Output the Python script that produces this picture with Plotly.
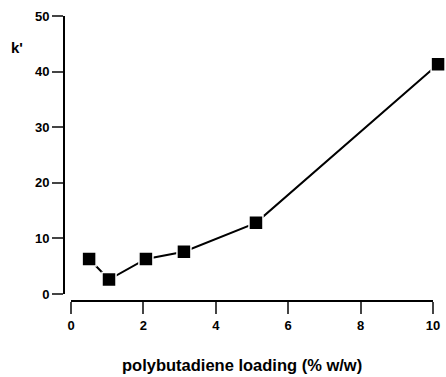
import plotly.graph_objects as go

loading = [0.5, 1.05, 2.07, 3.12, 5.11, 10.14]
k_prime = [6.3, 2.6, 6.3, 7.6, 12.8, 41.3]
x_ticks = [0, 2, 4, 6, 8, 10]
y_ticks = [0, 10, 20, 30, 40, 50]

W, H = 446, 377
ml, mr, mt, mb = 64, 4, 16, 76
pw, ph = W - ml - mr, H - mt - mb
x0px, upx = 71, 36.2  # pixel of x=0, pixels per unit
xmax = (W - mr - x0px) / upx

fig = go.Figure(go.Scatter(
    x=loading, y=k_prime, mode="lines+markers", cliponaxis=False,
    line=dict(color="black", width=2),
    marker=dict(symbol="square", size=14, color="black",
                line=dict(color="white", width=1.5)),
))

font = dict(family="Liberation Sans, Arial, sans-serif", color="black")
fig.update_layout(
    width=W, height=H, margin=dict(l=ml, r=mr, t=mt, b=mb),
    plot_bgcolor="white", paper_bgcolor="white", showlegend=False,
    xaxis=dict(range=[0, xmax], domain=[(x0px - ml) / pw, 1], anchor="free", position=0,
               tickvals=x_ticks, ticks="outside", ticklen=12, tickwidth=1.5,
               showline=False, showgrid=False,
               zeroline=False, tickfont=dict(size=13, weight="bold", **font)),
    yaxis=dict(range=[0, 50], domain=[(301 - 294) / ph, 1], anchor="free", position=0,
               tickvals=y_ticks, ticks="outside", ticklen=11, tickwidth=1.5,
               showline=True, linecolor="black", linewidth=1.8, showgrid=False,
               zeroline=False, tickfont=dict(size=13, weight="bold", **font)),
)
# x axis line spanning only 0..10
fig.add_shape(type="line", xref="x", yref="paper", x0=x_ticks[0], x1=x_ticks[-1],
              y0=0, y1=0, line=dict(color="black", width=1.8))

def px_annot(text, x, y, size):
    fig.add_annotation(text=text, xref="paper", yref="paper",
                       x=(x - ml) / pw, y=(H - mb - y) / ph,
                       xanchor="center", yanchor="middle", showarrow=False,
                       font=dict(size=size, weight="bold", **font))

px_annot("k'", 17, 47, 15)
px_annot("polybutadiene loading (% w/w)", 242, 365, 16.5)

fig.write_html("out.html")
